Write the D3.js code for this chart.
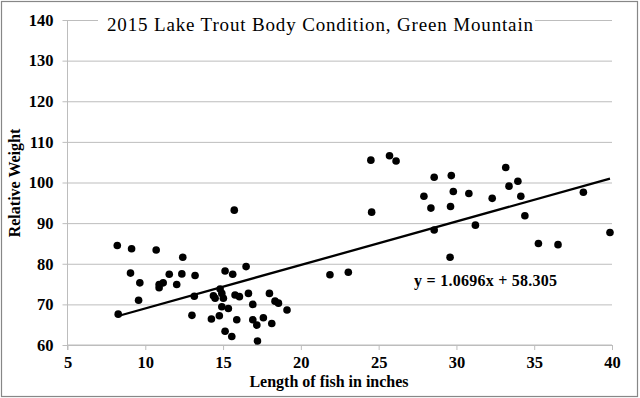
<!DOCTYPE html>
<html>
<head>
<meta charset="utf-8">
<script src="https://cdn.jsdelivr.net/npm/d3@7"></script>
<style>
  html, body { margin: 0; padding: 0; background: #fff; }
  svg { display: block; }
  svg text { font-family: 'Liberation Serif', 'Times New Roman', serif; }
</style>
</head>
<body>
<svg id="chart" width="640" height="398"></svg>
<script>
// ---- Data ----
const title = "2015 Lake Trout Body Condition, Green Mountain";
const xLabel = "Length of fish in inches";
const yLabel = "Relative Weight";
const equationText = "y = 1.0696x + 58.305";
const slope = 1.0696;
const intercept = 58.305;
const xTicks = [5, 10, 15, 20, 25, 30, 35, 40];
const yTicks = [60, 70, 80, 90, 100, 110, 120, 130, 140];

const lengths = [
  8.2, 8.26, 9.12, 9.05, 9.65, 9.57, 10.7, 10.89, 10.89, 11.15,
  11.54, 12.02, 12.35, 12.41, 13.2, 13.15, 13.0, 14.25, 14.38, 14.49,
  14.81, 14.76, 14.92, 15.02, 14.92, 15.34, 15.13, 15.56, 15.13, 15.62,
  15.72, 15.77, 15.88, 16.05, 16.48, 16.63, 16.91, 16.91, 17.17, 17.21,
  17.59, 17.98, 18.13, 18.34, 18.56, 19.11, 21.87, 23.05, 24.5, 24.55,
  25.7, 26.12, 27.91, 28.36, 28.57, 28.57, 29.62, 29.67, 29.8, 29.59,
  30.8, 31.22, 32.3, 33.17, 33.38, 33.95, 34.14, 34.4, 35.27, 36.53,
  38.16, 39.87
];
const weights = [
  84.5, 67.6, 83.7, 77.7, 75.3, 71.0, 83.4, 74.9, 74.1, 75.3,
  77.4, 74.9, 77.5, 81.6, 77.1, 72.0, 67.3, 66.4, 72.1, 71.5,
  73.8, 67.2, 72.7, 71.5, 69.4, 69.0, 63.4, 62.1, 78.2, 77.4,
  93.2, 72.3, 66.2, 71.9, 79.3, 72.7, 70.0, 66.2, 64.9, 61.0,
  66.7, 72.7, 65.3, 70.8, 70.3, 68.6, 77.3, 77.9, 105.5, 92.7,
  106.6, 105.3, 96.6, 93.7, 101.3, 88.3, 94.1, 101.7, 97.8, 81.6,
  97.3, 89.5, 96.1, 103.7, 99.1, 100.3, 96.6, 91.8, 85.0, 84.7,
  97.6, 87.7
];

const points = lengths.map((x, i) => ({ x, y: weights[i] }));

// ---- Layout ----
const svg = d3.select("#chart");
const W = 640, H = 398;
const mLeft = 67.5, mRight = 612, mTop = 20, mBottom = 345;
const serif = "'Liberation Serif', 'Times New Roman', serif";

const x = d3.scaleLinear().domain([5, 40]).range([mLeft, mRight]);
const y = d3.scaleLinear().domain([60, 140]).range([mBottom, mTop]);

svg.append("rect").attr("x", 0).attr("y", 0).attr("width", W).attr("height", H).attr("fill", "#fff");
svg.append("rect").attr("x", 1.5).attr("y", 1.5).attr("width", 636).attr("height", 395)
  .attr("fill", "none").attr("stroke", "#878787").attr("stroke-width", 1.2);

// gridlines + y axis ticks
const yAxis = d3.axisLeft(y).tickValues(yTicks).tickSize(-(mRight - mLeft) - 5).tickPadding(10).tickFormat(d3.format("d"));
const gy = svg.append("g").attr("transform", `translate(${mLeft - 5},0)`).call(yAxis)
  .attr("font-family", null).attr("font-size", null);
gy.select(".domain").remove();
gy.selectAll(".tick line").attr("stroke", "#bdbdbd").attr("stroke-width", 1);
gy.selectAll(".tick text")
  .style("font-family", serif).style("font-weight", "bold").style("font-size", "16.5px")
  .attr("fill", "#000").attr("x", -9);

// vertical axis line
svg.append("line").attr("x1", mLeft).attr("x2", mLeft).attr("y1", mTop).attr("y2", mBottom + 5)
  .attr("stroke", "#bdbdbd").attr("stroke-width", 1);

// x axis
const xAxis = d3.axisBottom(x).tickValues(xTicks).tickSize(5).tickPadding(6).tickFormat(d3.format("d"));
const gx = svg.append("g").attr("transform", `translate(0,${mBottom})`).call(xAxis)
  .attr("font-family", null).attr("font-size", null);
gx.select(".domain").attr("stroke", "#bdbdbd").attr("d", `M${mLeft},0H${mRight}`);
gx.selectAll(".tick line").attr("stroke", "#bdbdbd");
gx.selectAll(".tick text")
  .style("font-family", serif).style("font-weight", "bold").style("font-size", "16.5px").attr("fill", "#000");

// title with white background
svg.append("rect").attr("fill", "#fff").attr("x", 98).attr("y", 8).attr("width", 437).attr("height", 28);
svg.append("text").attr("x", 320).attr("y", 31).attr("text-anchor", "middle")
  .style("font-family", serif).style("font-size", "19px").attr("fill", "#000")
  .attr("textLength", 426).attr("lengthAdjust", "spacing").text(title);

// regression line
const xMin = d3.min(lengths), xMax = d3.max(lengths);
svg.append("line")
  .attr("x1", x(xMin)).attr("y1", y(slope * xMin + intercept))
  .attr("x2", x(xMax)).attr("y2", y(slope * xMax + intercept))
  .attr("stroke", "#000").attr("stroke-width", 2.3);

// points
svg.append("g").selectAll("circle").data(points).join("circle")
  .attr("cx", d => x(d.x)).attr("cy", d => y(d.y)).attr("r", 3.8).attr("fill", "#000");

// equation
svg.append("text").attr("x", 414).attr("y", 286)
  .style("font-family", serif).style("font-weight", "bold").style("font-size", "16px")
  .attr("textLength", 143).attr("lengthAdjust", "spacing")
  .attr("fill", "#000").text(equationText);

// axis titles
svg.append("text").attr("x", 329).attr("y", 387).attr("text-anchor", "middle")
  .style("font-family", serif).style("font-weight", "bold").style("font-size", "16px")
  .attr("fill", "#000").text(xLabel);
svg.append("text").attr("transform", "translate(20,183) rotate(-90)").attr("text-anchor", "middle")
  .style("font-family", serif).style("font-weight", "bold").style("font-size", "16px")
  .attr("fill", "#000").text(yLabel);
</script>
</body>
</html>
